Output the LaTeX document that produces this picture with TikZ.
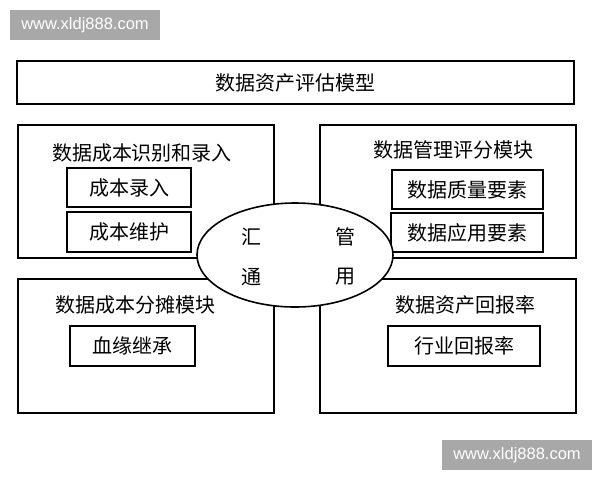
\documentclass[tikz,border=0pt]{standalone}
\usepackage{fontspec}
\newfontfamily\cjk{Noto Sans CJK SC}
\setsansfont{Liberation Sans}
\usetikzlibrary{shapes.geometric}

\begin{document}
\begin{tikzpicture}[x=1pt,y=-1pt,
  rahmen/.style={draw,line width=1.6pt,inner sep=0pt},
  schrift/.style={font=\cjk\fontsize{20}{20}\selectfont},
  wasser/.style={fill=black!34,text=white,inner sep=0pt,
    minimum width=150pt,minimum height=30pt,
    font=\sffamily\fontsize{16.5}{16.5}\selectfont}]
\useasboundingbox (0,0) rectangle (600,480);
\node[wasser] (wz1) at (85,25) {www.xldj888.com};
\node[wasser] (wz2) at (517,455) {www.xldj888.com};

\node[rahmen,schrift,minimum width=557pt,minimum height=43pt] (modell) at (295.5,82.5) {数据资产评估模型};

% vier Module
\node[rahmen,minimum width=256pt,minimum height=133pt] (kosten) at (146,191.5) {};
\node[rahmen,minimum width=256pt,minimum height=133pt] (verwaltung) at (448,191.5) {};
\node[rahmen,minimum width=256pt,minimum height=134pt] (aufteilung) at (146,346) {};
\node[rahmen,minimum width=256pt,minimum height=134pt] (rendite) at (448,346) {};

\node[schrift] (kostenT) at (142,153) {数据成本识别和录入};
\node[schrift] (verwaltungT) at (453,150) {数据管理评分模块};
\node[schrift] (aufteilungT) at (135,305) {数据成本分摊模块};
\node[schrift] (renditeT) at (465,305) {数据资产回报率};

\node[rahmen,schrift,minimum width=124pt,minimum height=39pt] (eingabe) at (129,187.5) {成本录入};
\node[rahmen,schrift,minimum width=124pt,minimum height=40pt] (pflege) at (129,232) {成本维护};
\node[rahmen,schrift,minimum width=151pt,minimum height=39pt] (qualitaet) at (467.5,189.5) {数据质量要素};
\node[rahmen,schrift,minimum width=152pt,minimum height=39pt] (anwendung) at (467,232.5) {数据应用要素};
\node[rahmen,schrift,minimum width=125pt,minimum height=40pt] (herkunft) at (132.5,346) {血缘继承};
\node[rahmen,schrift,minimum width=152pt,minimum height=40pt] (branche) at (464,346) {行业回报率};

% Mitte
\node[ellipse,draw,fill=white,line width=1.6pt,minimum width=196pt,minimum height=104pt] (mitte) at (295,255) {};
\node[schrift] (hui) at (251,237) {汇};
\node[schrift] (guan) at (345,237) {管};
\node[schrift] (tong) at (251,277) {通};
\node[schrift] (yong) at (345,277) {用};
\end{tikzpicture}
\end{document}
